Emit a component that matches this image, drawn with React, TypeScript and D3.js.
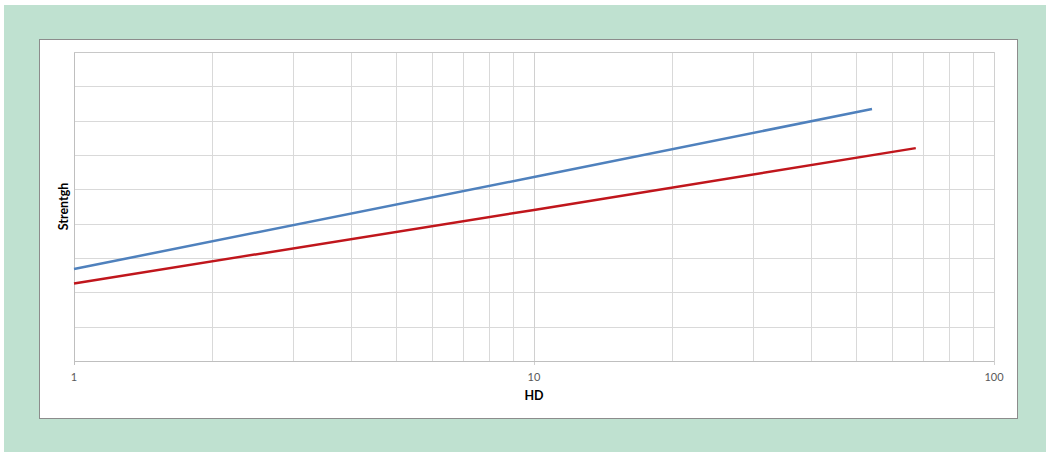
import React from "react";
import * as d3 from "d3";

const blueX = [1, 10, 54.3];
const blueY = [26.8, 53.6, 73.4];
const redX = [1, 10, 67.6];
const redY = [22.6, 44.0, 62.0];
const xTicks = [1, 10, 100];
const yTicks = [0, 10, 20, 30, 40, 50, 60, 70, 80, 90];

export default function App() {
  const W = 1050, H = 456;
  const left = 74, right = 994, top = 52, bottom = 361;
  const x = d3.scaleLog().domain([1, 100]).range([left, right]);
  const y = d3.scaleLinear().domain([0, 90]).range([bottom, top]);
  const minor: number[] = [];
  for (const dec of [1, 10]) for (let k = 2; k <= 9; k++) minor.push(dec * k);
  const line = d3.line<[number, number]>().x(d => x(d[0])).y(d => y(d[1]));
  const blue = blueX.map((v, i) => [v, blueY[i]] as [number, number]);
  const red = redX.map((v, i) => [v, redY[i]] as [number, number]);
  const font = "Lato, 'Open Sans', sans-serif";
  return (
    <svg width={W} height={H} style={{ position: "absolute", left: 0, top: 0 }}>
      <rect x={4} y={5} width={1042} height={447} fill="#bfe1d0" />
      <rect x={39.5} y={39.5} width={978} height={379} fill="#fff" stroke="#8c8c8c" strokeWidth={1} />
      {yTicks.map(t => (
        <line key={"h" + t} x1={left} x2={right} y1={Math.round(y(t)) + 0.5} y2={Math.round(y(t)) + 0.5} stroke="#d9d9d9" />
      ))}
      {minor.map(t => (
        <line key={"m" + t} x1={Math.round(x(t)) + 0.5} x2={Math.round(x(t)) + 0.5} y1={top} y2={bottom} stroke="#d9d9d9" />
      ))}
      {xTicks.map(t => (
        <line key={"v" + t} x1={Math.round(x(t)) + 0.5} x2={Math.round(x(t)) + 0.5} y1={top} y2={bottom + 4} stroke="#d0d0d0" />
      ))}
      <line x1={left} x2={right} y1={bottom + 0.5} y2={bottom + 0.5} stroke="#bfbfbf" />
      <line x1={left + 0.5} x2={left + 0.5} y1={top} y2={bottom + 4} stroke="#bfbfbf" />
      <line x1={left} x2={right} y1={top + 0.5} y2={top + 0.5} stroke="#c8c8c8" />
      <path d={line(blue) || ""} fill="none" stroke="#4f81bd" strokeWidth={2.5} />
      <path d={line(red) || ""} fill="none" stroke="#c0161c" strokeWidth={2.5} />
      {xTicks.map(t => (
        <text key={"l" + t} x={x(t)} y={381} textAnchor="middle" fontFamily={font} fontSize={11} fill="#595959">{t}</text>
      ))}
      <text x={(left + right) / 2} y={400} textAnchor="middle" fontFamily={font} fontSize={12.5} fontWeight="bold" fill="#000">HD</text>
      <text transform={`translate(68,${(top + bottom) / 2}) rotate(-90)`} textAnchor="middle" fontFamily={font} fontSize={12.5} fontWeight="bold" fill="#000">Strentgh</text>
    </svg>
  );
}
